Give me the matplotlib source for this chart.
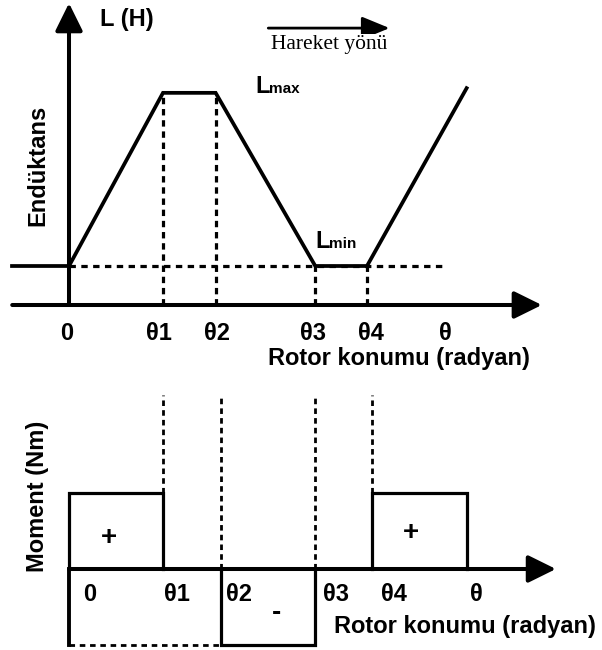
import matplotlib
matplotlib.use('Agg')
import matplotlib.pyplot as plt

plt.rcParams['font.family'] = ['Liberation Sans', 'DejaVu Sans']
plt.rcParams['font.weight'] = 'bold'

# ---- data (radyan positions, arbitrary units) ----
theta_top = [0.0, 1.0, 1.56, 2.62, 3.17, 4.23]      # 0, th1, th2, th3, th4, end
L_top = [1.0, 5.44, 5.44, 1.0, 1.0, 5.56]            # inductance profile
L_min = 1.0
L_max = 5.44
top_labels = ['0', 'θ1', 'θ2', 'θ3', 'θ4', 'θ']
top_label_x = [-0.02, 0.96, 1.57, 2.60, 3.21, 4.0]

theta_bot = [0.0, 1.0, 1.62, 2.62, 3.22, 4.23]       # 0, th1, th2, th3, th4, end
torque = [1.0, 0.0, -1.0, 0.0, 1.0]                  # per interval
bot_labels = ['0', 'θ1', 'θ2', 'θ3', 'θ4', 'θ']
bot_label_x = [0.22, 1.15, 1.81, 2.84, 3.46, 4.33]

fig = plt.figure(figsize=(6.02, 6.5), dpi=100)

# px scale: 94 px per radyan unit, x=0 at px 69
x_lim = (-69 / 94, (602 - 69) / 94)
fs = 17

# ================= top: inductance =================
ax1 = fig.add_axes([0, 1 - 380 / 650, 1, 380 / 650])
ax1.set_xlim(*x_lim)
ax1.set_ylim(-(380 - 305) / 39, 305 / 39)
ax1.axis('off')

lw = 2.7
ax1.plot(theta_top, L_top, color='black', lw=lw, solid_joinstyle='miter')
# L_min reference
ax1.plot([x_lim[0] + 0.13, theta_top[0]], [L_min, L_min], color='black', lw=lw)
ax1.plot([theta_top[0], 4.0], [L_min, L_min], color='black', lw=2.3,
         linestyle=(0, (2.0, 1.7)))
# dashed verticals
for i in range(1, 5):
    ax1.plot([theta_top[i], theta_top[i]], [0, L_top[i]], color='black', lw=2.3,
             linestyle=(0, (2.0, 1.5)))

arr = dict(arrowstyle='-|>,head_length=0.85,head_width=0.42', color='black',
           lw=2.9, shrinkA=0, shrinkB=0, mutation_scale=20)
ax1.annotate('', xy=(0, 7.74), xytext=(0, 0), arrowprops=arr)
ax1.annotate('', xy=(5.03, 0), xytext=(x_lim[0] + 0.13, 0), arrowprops=arr)

for lab, x in zip(top_labels, top_label_x):
    ax1.text(x, -0.72, lab, ha='center', va='center', fontsize=fs)
ax1.text(3.51, -1.36, 'Rotor konumu (radyan)', ha='center', va='center', fontsize=fs)
ax1.text(0.33, 7.31, 'L (H)', ha='left', va='center', fontsize=fs)
ax1.text(-0.33, 3.59, 'Endüktans', ha='center', va='center', rotation=90, fontsize=fs)

ax1.text(1.98, L_max, 'L', ha='left', va='baseline', fontsize=17)
ax1.text(2.13, L_max, 'max', ha='left', va='baseline', fontsize=11)
ax1.text(2.62, 1.46, 'L', ha='left', va='baseline', fontsize=17)
ax1.text(2.77, 1.46, 'min', ha='left', va='baseline', fontsize=11)

# motion direction arrow
ax1.annotate('', xy=(3.41, 7.10), xytext=(2.12, 7.10),
             arrowprops=dict(arrowstyle='-|>,head_length=0.85,head_width=0.35',
                             color='black', lw=2.0, shrinkA=0, shrinkB=0,
                             mutation_scale=20))
ax1.text(2.77, 6.67, 'Hareket yönü', ha='center', va='center', fontsize=15.5,
         fontweight='normal', family=['Liberation Serif', 'DejaVu Serif'],
         bbox=dict(facecolor='white', edgecolor='none', pad=1))

# ================= bottom: torque =================
ax2 = fig.add_axes([0, 0, 1, 270 / 650])
ax2.set_xlim(*x_lim)
ax2.set_ylim(-(650 - 569) / 76, (569 - 380) / 76)
ax2.axis('off')

lw2 = 2.3
# torque blocks
for i, t in enumerate(torque):
    if t == 0:
        continue
    x0, x1 = theta_bot[i], theta_bot[i + 1]
    ax2.plot([x0, x0, x1, x1], [0, t, t, 0], color='black', lw=lw2,
             solid_joinstyle='miter')
# dashed baseline of negative region
ax2.plot([theta_bot[0], theta_bot[2]], [-1, -1], color='black', lw=2.0,
         linestyle=(0, (2.0, 1.7)))
# dashed verticals
dash_top = 2.29
for i in range(1, 5):
    y0 = max(torque[i - 1], torque[i] if i < len(torque) else 0, 0)
    ax2.plot([theta_bot[i], theta_bot[i]], [y0, dash_top], color='black', lw=2.0,
             linestyle=(0, (2.0, 1.5)))

ax2.plot([0, 0], [-1, 0], color='black', lw=2.8)
ax2.annotate('', xy=(0, 2.71), xytext=(0, 0), arrowprops=arr)
ax2.annotate('', xy=(5.18, 0), xytext=(0, 0), arrowprops=arr)

for lab, x in zip(bot_labels, bot_label_x):
    ax2.text(x, -0.33, lab, ha='center', va='center', fontsize=fs)
ax2.text(0.43, 0.41, '+', ha='center', va='center', fontsize=20)
ax2.text(3.64, 0.47, '+', ha='center', va='center', fontsize=20)
ax2.text(2.21, -0.58, '-', ha='center', va='center', fontsize=20)
ax2.text(4.21, -0.76, 'Rotor konumu (radyan)', ha='center', va='center', fontsize=fs)
ax2.text(-0.33, 0.96, 'Moment (Nm)', ha='center', va='center', rotation=90, fontsize=fs)

fig.savefig('out.png', dpi=100)
